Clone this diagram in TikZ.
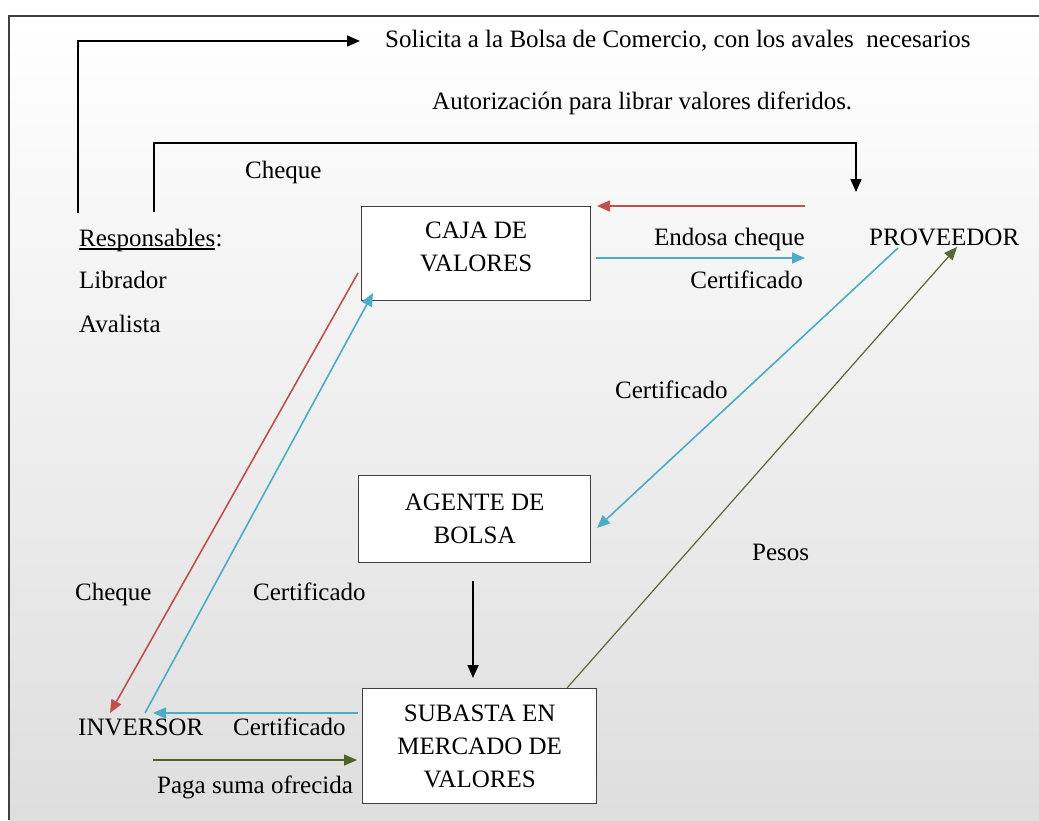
\documentclass[tikz,border=0pt]{standalone}
\usepackage{fontspec}
\setmainfont{Liberation Serif}
\usetikzlibrary{arrows.meta,shadings}
\definecolor{cred}{HTML}{C0504D}
\definecolor{cblue}{HTML}{4BACC6}
\definecolor{cgreen}{HTML}{4F6228}
\definecolor{frame}{HTML}{404040}
\begin{document}
\begin{tikzpicture}[x=1pt,y=-1pt,
  every node/.style={font=\fontsize{25}{33}\selectfont, inner sep=0pt, text=black},
  lbl/.style={anchor=base west},
  lblr/.style={anchor=base east},
  box/.style={draw=frame, line width=1.3pt, fill=white, align=center, anchor=north west},
  blk/.style={line width=1.7pt, -{Triangle[length=13pt,width=11pt]}},
  red/.style={draw=cred, line width=1.6pt, -{Triangle[length=13pt,width=11pt]}},
  blu/.style={draw=cblue, line width=1.6pt, -{Triangle[length=13pt,width=11pt]}},
  grn/.style={draw=cgreen, line width=1.6pt, -{Triangle[length=13pt,width=11pt]}},
  grnthin/.style={draw=cgreen!80!gray, line width=1.2pt, -{Triangle[length=13pt,width=11pt]}}
]
\useasboundingbox (0,0) rectangle (1039,820);
\fill[white] (0,0) rectangle (1039,820);
\shade[top color=white, bottom color=gray!26] (9,16) rectangle (1039,820);
\draw[frame, line width=1.4pt] (1039,16) -- (9,16) -- (9,820);

% boxes
\node[box, minimum width=229pt, minimum height=94pt, text depth=14pt] (caja) at (361,206) {CAJA DE\\VALORES};
\node[box, minimum width=232pt, minimum height=87pt] (agente) at (358,475) {AGENTE DE\\BOLSA};
\node[box, minimum width=234pt, minimum height=115pt] (subasta) at (362,688) {SUBASTA EN\\MERCADO DE\\VALORES};

% texts
\node[lbl] (sol) at (385,47) {Solicita a la Bolsa de Comercio, con los avales\ \ necesarios};
\node[lbl] (aut) at (432,109) {Autorización para librar valores diferidos.};
\node[lbl] (cheq1) at (245,178) {Cheque};
\node[lbl] (resp) at (79,246) {Responsables};
\node[lbl] (colon) at (resp.base east) {:};
\node[lbl] (libr) at (79,288) {Librador};
\node[lbl] (aval) at (79,332) {Avalista};
\node[lblr] (endo) at (805,245) {Endosa cheque};
\node[lblr] (cert1) at (803,288) {Certificado};
\node[lbl] (prov) at (869,245) {PROVEEDOR};
\node[lbl] (cert2) at (615,398) {Certificado};
\node[lbl] (pesos) at (752,560) {Pesos};
\node[lbl] (cheq2) at (75,600) {Cheque};
\node[lbl] (cert3) at (253,600) {Certificado};
\node[lbl] (inv) at (78,735) {INVERSOR};
\node[lbl] (cert4) at (233,735) {Certificado};
\node[lbl] (paga) at (157,793) {Paga suma ofrecida};

\draw[line width=1.1pt] ([yshift=-3pt]resp.base west) -- ([yshift=-3pt]resp.base east);

% coordinates
\coordinate (r1) at (78,213);
\coordinate (sa) at (360,41);
\coordinate (r2) at (154,212);
\coordinate (pc) at (856,143);
\coordinate (pa) at (856,192);
\coordinate (pv1) at (805,206);
\coordinate (cj1) at (597,206);
\coordinate (cj2) at (596,258);
\coordinate (pv2) at (805,258);
\coordinate (pv3) at (898,248);
\coordinate (ag1) at (597,528);
\coordinate (sb1) at (567,688);
\coordinate (pv4) at (957,247);
\coordinate (ag2) at (473,581);
\coordinate (sb2) at (473,678);
\coordinate (cj3) at (358,273);
\coordinate (in1) at (110,713);
\coordinate (in2) at (145,713);
\coordinate (cj4) at (373,293);
\coordinate (sb3) at (358,713);
\coordinate (in3) at (153,713);
\coordinate (in4) at (153,760);
\coordinate (sb4) at (357,760);

% connectors
\draw[blk] (r1) |- (sa);
\draw[blk] (r2) |- (pc) -- (pa);
\draw[red] (pv1) -- (cj1);
\draw[blu] (cj2) -- (pv2);
\draw[blu] (pv3) -- (ag1);
\draw[grnthin] (sb1) -- (pv4);
\draw[blk] (ag2) -- (sb2);
\draw[red] (cj3) -- (in1);
\draw[blu] (in2) -- (cj4);
\draw[blu] (sb3) -- (in3);
\draw[grn] (in4) -- (sb4);
\end{tikzpicture}
\end{document}
